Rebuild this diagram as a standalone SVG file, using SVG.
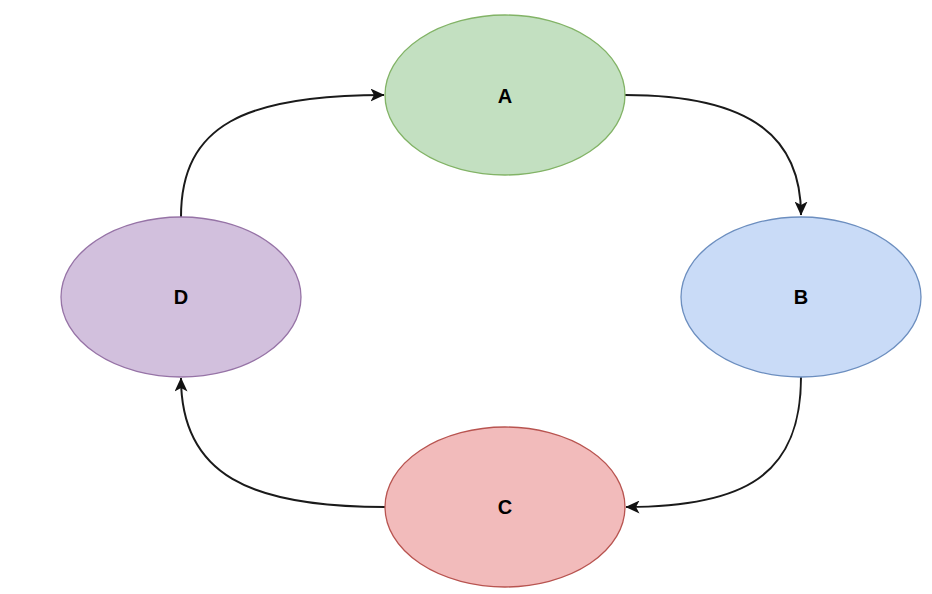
<svg xmlns="http://www.w3.org/2000/svg" width="932" height="594" viewBox="0 0 932 594">
  <style>
    .node ellipse { stroke-width: 1.3; }
    .label { font-family: "Liberation Sans", Arial, sans-serif; font-size: 20px; font-weight: bold; fill: #000; text-anchor: middle; dominant-baseline: central; }
    .edge { fill: none; stroke: #1a1a1a; stroke-width: 2; }
  </style>
  <defs>
    <marker id="arrow" viewBox="0 0 14 13" refX="13.5" refY="6.5" markerWidth="14" markerHeight="13" markerUnits="userSpaceOnUse" orient="auto">
      <path d="M0,0 L14,6.5 L0,13 L3.5,6.5 Z" fill="#111"/>
    </marker>
  </defs>
  <rect width="932" height="594" fill="#fff"/>

  <g id="connectors">
    <path class="edge" d="M625,95 C755,95 801,140 801,215" marker-end="url(#arrow)"/>
    <path class="edge" d="M801,377 C801,475 745,507 626,507" marker-end="url(#arrow)"/>
    <path class="edge" d="M385,507 C250,507 181,475 181,378" marker-end="url(#arrow)"/>
    <path class="edge" d="M181,217 C181,125 245,95 384,95" marker-end="url(#arrow)"/>
  </g>

  <g id="node-a" class="node">
    <ellipse cx="505" cy="95" rx="120" ry="80" fill="#c3e0c1" stroke="#82b366"/>
    <text class="label" x="505" y="96">A</text>
  </g>
  <g id="node-b" class="node">
    <ellipse cx="801" cy="297" rx="120" ry="80" fill="#c9dbf7" stroke="#6c8ebf"/>
    <text class="label" x="801" y="297">B</text>
  </g>
  <g id="node-c" class="node">
    <ellipse cx="505" cy="507" rx="120" ry="80" fill="#f2bbbb" stroke="#b85450"/>
    <text class="label" x="505" y="507">C</text>
  </g>
  <g id="node-d" class="node">
    <ellipse cx="181" cy="297" rx="120" ry="80" fill="#d2c0dd" stroke="#9673a6"/>
    <text class="label" x="181" y="297">D</text>
  </g>
</svg>
